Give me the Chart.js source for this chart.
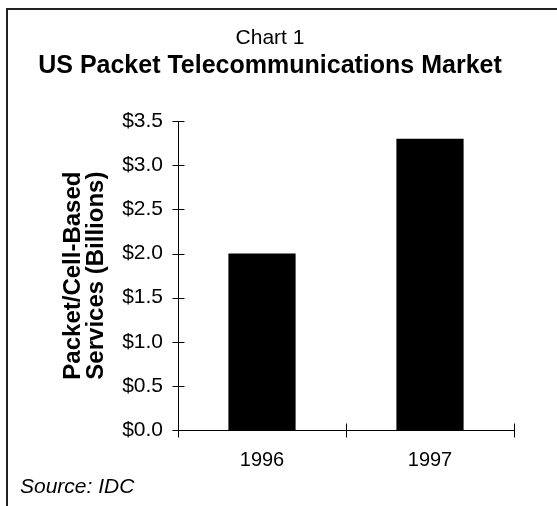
<!DOCTYPE html>
<html>
<head>
<meta charset="utf-8">
<style>
  html, body { margin: 0; padding: 0; background: #fff; }
  #wrap { width: 557px; height: 506px; }
</style>
<script src="https://cdn.jsdelivr.net/npm/chart.js@4/dist/chart.umd.min.js"></script>
</head>
<body>
<div id="wrap"><canvas id="chart" width="557" height="506"></canvas></div>
<script>
// Market size by year, in billions of US dollars
const years = ['1996', '1997'];
const marketBillions = [2.0, 3.3];
const yTickValues = [0, 0.5, 1.0, 1.5, 2.0, 2.5, 3.0, 3.5];

const chartLabel = 'Chart 1';
const chartTitle = 'US Packet Telecommunications Market';
const yAxisTitle = ['Packet/Cell-Based', 'Services (Billions)'];
const sourceNote = 'Source: IDC';

const FONT = "'Liberation Sans', Arial, Helvetica, sans-serif";

// Open frame along the top and left edges plus the source note
const framePlugin = {
  id: 'frame',
  beforeDraw(chart) {
    const ctx = chart.ctx;
    ctx.save();
    ctx.strokeStyle = '#222';
    ctx.lineWidth = 2;
    ctx.beginPath();
    ctx.moveTo(chart.width, 9);
    ctx.lineTo(7, 9);
    ctx.lineTo(7, chart.height);
    ctx.stroke();
    ctx.restore();
  },
  afterDraw(chart) {
    const ctx = chart.ctx;
    ctx.save();
    ctx.fillStyle = '#000';
    ctx.font = 'italic 21px ' + FONT;
    ctx.textBaseline = 'middle';
    ctx.textAlign = 'left';
    ctx.fillText(sourceNote, 20, 487);
    ctx.restore();
  }
};

// Axis lines with tick marks that cross the axis on both sides
const crossTicksPlugin = {
  id: 'crossTicks',
  afterDatasetsDraw(chart) {
    const ctx = chart.ctx;
    const x = chart.scales.x;
    const y = chart.scales.y;
    const ax = Math.round(x.left) + 0.5;
    const ay = Math.round(y.bottom) + 0.5;
    ctx.save();
    ctx.strokeStyle = '#000';
    ctx.lineWidth = 1;
    ctx.beginPath();
    // value axis
    ctx.moveTo(ax, Math.round(y.top));
    ctx.lineTo(ax, ay);
    // category axis
    ctx.moveTo(ax, ay);
    ctx.lineTo(Math.round(x.right) + 0.5, ay);
    y.ticks.forEach(t => {
      const py = Math.round(y.getPixelForValue(t.value)) + 0.5;
      ctx.moveTo(ax - 6, py);
      ctx.lineTo(ax + 6, py);
    });
    for (let i = 0; i <= years.length; i++) {
      const px = Math.round(x.getPixelForValue(i - 0.5)) + 0.5;
      ctx.moveTo(px, ay - 7);
      ctx.lineTo(px, ay + 7);
    }
    ctx.stroke();
    ctx.restore();
  }
};

new Chart(document.getElementById('chart'), {
  type: 'bar',
  data: {
    labels: years,
    datasets: [{
      data: marketBillions,
      backgroundColor: '#000',
      borderWidth: 0,
      barPercentage: 0.4,
      categoryPercentage: 1.0
    }]
  },
  options: {
    responsive: false,
    animation: false,
    devicePixelRatio: 1,
    layout: { padding: { left: 26, right: 43, top: 0, bottom: 0 } },
    plugins: {
      legend: { display: false },
      tooltip: { enabled: false },
      title: {
        display: true,
        text: chartLabel,
        color: '#000',
        font: { family: FONT, size: 21, weight: 'normal' },
        padding: { top: 26, bottom: 0 }
      },
      subtitle: {
        display: true,
        text: chartTitle,
        color: '#000',
        font: { family: FONT, size: 25, weight: 'bold' },
        padding: { top: 0, bottom: 40 }
      }
    },
    scales: {
      x: {
        type: 'category',
        offset: true,
        grid: { display: false },
        border: { display: false },
        ticks: {
          color: '#000',
          padding: 10,
          font: { family: FONT, size: 20 }
        },
        afterFit(scale) { scale.height = 76; }
      },
      y: {
        min: 0,
        max: 3.5,
        grid: { display: false },
        border: { display: false },
        afterBuildTicks(scale) {
          scale.ticks = yTickValues.map(v => ({ value: v }));
        },
        ticks: {
          color: '#000',
          padding: 7,
          font: { family: FONT, size: 21 },
          callback: v => '$' + Number(v).toFixed(1)
        },
        title: {
          display: true,
          text: yAxisTitle,
          color: '#000',
          font: { family: FONT, size: 24, weight: 'bold', lineHeight: 0.96 },
          padding: { top: 36, bottom: 0 }
        },
        afterFit(scale) { scale.width = 152; }
      }
    }
  },
  plugins: [framePlugin, crossTicksPlugin]
});
</script>
</body>
</html>
